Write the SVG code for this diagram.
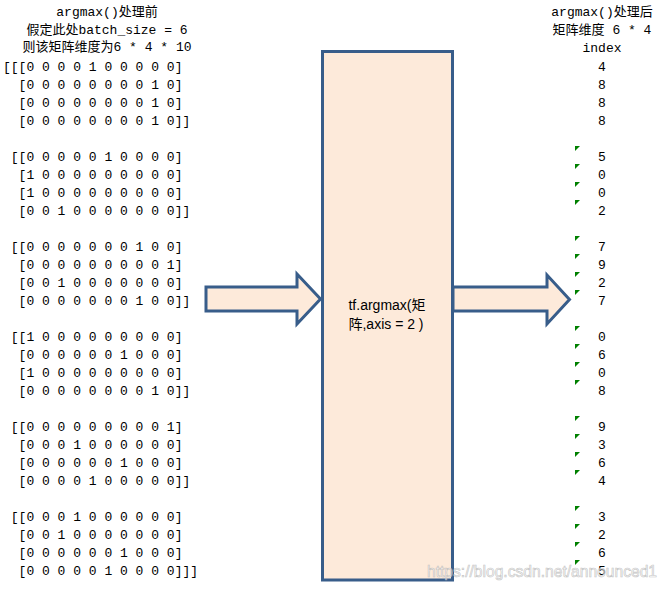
<svg xmlns="http://www.w3.org/2000/svg" width="667" height="589" viewBox="0 0 667 589">
<style>
.m{font-family:"Liberation Mono","Noto Sans CJK SC",monospace;font-size:13px;fill:#000;white-space:pre}
.c{text-anchor:middle}
.box{fill:#FDEADA;stroke:#385D8A;stroke-width:3}
.lbl{font-family:"Liberation Sans","Noto Sans CJK SC",sans-serif;font-size:14px;fill:#000;text-anchor:middle;white-space:pre}
.mk{fill:#008000}
.wm{font-family:"Liberation Sans",sans-serif;font-size:16px;fill:#ffffff;fill-opacity:0.55;stroke:#b8b8b8;stroke-width:0.7;stroke-opacity:0.8}
</style>
<rect width="667" height="589" fill="#ffffff"/>
<g id="input" class="m" xml:space="preserve">
<text x="107" y="16" class="c">argmax()处理前</text>
<text x="107" y="33.5" class="c">假定此处batch_size = 6</text>
<text x="107" y="51" class="c">则该矩阵维度为6 * 4 * 10</text>
<text x="3" y="70.5" xml:space="preserve">[[[0 0 0 0 1 0 0 0 0 0]</text>
<text x="3" y="88.5" xml:space="preserve">  [0 0 0 0 0 0 0 0 1 0]</text>
<text x="3" y="106.5" xml:space="preserve">  [0 0 0 0 0 0 0 0 1 0]</text>
<text x="3" y="124.5" xml:space="preserve">  [0 0 0 0 0 0 0 0 1 0]]</text>
<text x="3" y="160.5" xml:space="preserve"> [[0 0 0 0 0 1 0 0 0 0]</text>
<text x="3" y="178.5" xml:space="preserve">  [1 0 0 0 0 0 0 0 0 0]</text>
<text x="3" y="196.5" xml:space="preserve">  [1 0 0 0 0 0 0 0 0 0]</text>
<text x="3" y="214.5" xml:space="preserve">  [0 0 1 0 0 0 0 0 0 0]]</text>
<text x="3" y="250.5" xml:space="preserve"> [[0 0 0 0 0 0 0 1 0 0]</text>
<text x="3" y="268.5" xml:space="preserve">  [0 0 0 0 0 0 0 0 0 1]</text>
<text x="3" y="286.5" xml:space="preserve">  [0 0 1 0 0 0 0 0 0 0]</text>
<text x="3" y="304.5" xml:space="preserve">  [0 0 0 0 0 0 0 1 0 0]]</text>
<text x="3" y="340.5" xml:space="preserve"> [[1 0 0 0 0 0 0 0 0 0]</text>
<text x="3" y="358.5" xml:space="preserve">  [0 0 0 0 0 0 1 0 0 0]</text>
<text x="3" y="376.5" xml:space="preserve">  [1 0 0 0 0 0 0 0 0 0]</text>
<text x="3" y="394.5" xml:space="preserve">  [0 0 0 0 0 0 0 0 1 0]]</text>
<text x="3" y="430.5" xml:space="preserve"> [[0 0 0 0 0 0 0 0 0 1]</text>
<text x="3" y="448.5" xml:space="preserve">  [0 0 0 1 0 0 0 0 0 0]</text>
<text x="3" y="466.5" xml:space="preserve">  [0 0 0 0 0 0 1 0 0 0]</text>
<text x="3" y="484.5" xml:space="preserve">  [0 0 0 0 1 0 0 0 0 0]]</text>
<text x="3" y="520.5" xml:space="preserve"> [[0 0 0 1 0 0 0 0 0 0]</text>
<text x="3" y="538.5" xml:space="preserve">  [0 0 1 0 0 0 0 0 0 0]</text>
<text x="3" y="556.5" xml:space="preserve">  [0 0 0 0 0 0 1 0 0 0]</text>
<text x="3" y="574.5" xml:space="preserve">  [0 0 0 0 0 1 0 0 0 0]]]</text>
</g>
<g id="argmax-op">
<rect class="box" x="322.5" y="51.5" width="130" height="528.5"/>
<text class="lbl" x="387" y="310">tf.argmax(矩</text>
<text class="lbl" x="386" y="329" xml:space="preserve">阵,axis = 2 )</text>
</g>
<g id="connectors">
<path class="box" d="M206 287 H297 V274 L320.5 299 L297 324 V311 H206 Z"/>
<path class="box" d="M453 287 H547 V275 L569.5 299.5 L547 324 V311 H453 Z"/>
</g>
<g id="output" class="m">
<text x="602" y="16" class="c">argmax()处理后</text>
<text x="602" y="33.5" class="c" xml:space="preserve">矩阵维度 6 * 4</text>
<text x="602" y="52" class="c">index</text>
<g class="c">
<text x="602" y="70.5">4</text><text x="602" y="88.5">8</text><text x="602" y="106.5">8</text><text x="602" y="124.5">8</text>
<text x="602" y="160.5">5</text><text x="602" y="178.5">0</text><text x="602" y="196.5">0</text><text x="602" y="214.5">2</text>
<text x="602" y="250.5">7</text><text x="602" y="268.5">9</text><text x="602" y="286.5">2</text><text x="602" y="304.5">7</text>
<text x="602" y="340.5">0</text><text x="602" y="358.5">6</text><text x="602" y="376.5">0</text><text x="602" y="394.5">8</text>
<text x="602" y="430.5">9</text><text x="602" y="448.5">3</text><text x="602" y="466.5">6</text><text x="602" y="484.5">4</text>
<text x="602" y="520.5">3</text><text x="602" y="538.5">2</text><text x="602" y="556.5">6</text><text x="602" y="574.5">5</text>
</g>
<g class="mk">
<path d="M575 146 h5 l-5 5 z"/><path d="M575 164 h5 l-5 5 z"/><path d="M575 182 h5 l-5 5 z"/><path d="M575 200 h5 l-5 5 z"/>
<path d="M575 236 h5 l-5 5 z"/><path d="M575 254 h5 l-5 5 z"/><path d="M575 272 h5 l-5 5 z"/><path d="M575 290 h5 l-5 5 z"/>
<path d="M575 326 h5 l-5 5 z"/><path d="M575 344 h5 l-5 5 z"/><path d="M575 362 h5 l-5 5 z"/><path d="M575 380 h5 l-5 5 z"/>
<path d="M575 416 h5 l-5 5 z"/><path d="M575 434 h5 l-5 5 z"/><path d="M575 452 h5 l-5 5 z"/><path d="M575 470 h5 l-5 5 z"/>
<path d="M575 506 h5 l-5 5 z"/><path d="M575 524 h5 l-5 5 z"/><path d="M575 542 h5 l-5 5 z"/><path d="M575 560 h5 l-5 5 z"/>
</g>
</g>
<text class="wm" x="427" y="577" textLength="230" lengthAdjust="spacingAndGlyphs">https://blog.csdn.net/announced1</text>
</svg>
